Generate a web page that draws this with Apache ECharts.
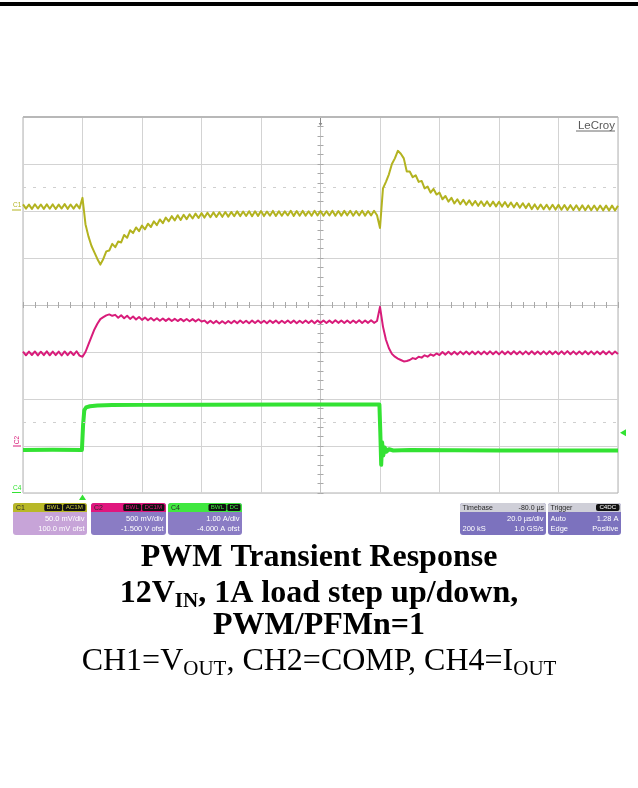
<!DOCTYPE html>
<html>
<head>
<meta charset="utf-8">
<script src="https://cdn.jsdelivr.net/npm/echarts@6/dist/echarts.min.js"></script>
<style>
  html, body { margin: 0; padding: 0; background: #ffffff; }
  #scope { width: 638px; height: 788px; }
</style>
</head>
<body>
<div id="scope"></div>
<script>
// ---- acquisition: CH1 / CH2 are sampled every 1 µs, starting 20 µs before the trigger ----
const sampleStartUs = -20;
const sampleStepUs = 1;

// CH1 = VOUT (AC coupled), mV
const ch1VoutMv = [
  7.0, 2.5, 6.8, 2.2, 7.2, 2.6, 6.9, 2.3, 7.1, 2.4, 7.0, 2.1, 6.8, 2.6, 7.3, 2.3, 6.9, 2.5, 7.0, 2.8,
  14, -14, -27, -37, -44, -51, -57, -51,
  -43, -42, -35, -38.5, -32.5, -33.5, -25.5, -28.5, -20.5, -23.5, -17.5, -21.5, -15.5,
  -19.5, -13.5, -17, -11, -15, -9, -13, -7, -11, -5.5, -10, -4.5, -9.5, -4, -8.7, -3.5,
  -8, -2.8, -7.5, -2.3, -7, -1.8, -6.6, -1.5, -6.4, -1.3, -6.2, -1.1, -6, -1,
  -5.6, -0.4, -5.4, -0.6, -5.3, -0.2, -5.5, -0.3, -5.2, 0.0,
  -5.4, -0.5, -5.0, 0.1, -5.3, -0.2, -5.1, -0.4, -4.8, 0.2,
  -5.2, -0.1, -5.0, 0.1, -4.9, -0.3, -5.1, 0.2, -4.7, 0.0,
  -5.0, -0.2, -4.8, 0.3, -5.1, 0.0, -4.9, 0.1, -4.6, 0.2,
  -5.0, -0.1, -4.8, 0.3, -4.9, 0.0, -4.7, 0.2, -4.6,
  -18,
  24, 31, 39, 50, 56, 64, 61, 56, 42, 42,
  36, 38, 31, 32, 24, 26, 19.5, 23.5, 17.5, 19.5, 12.5, 16, 10, 14, 8, 12.5, 7.2,
  11.9, 6.6, 11.3, 6.0, 10.7, 5.5, 10.4, 5.3, 10.2, 5.1, 10.0, 4.9, 9.9, 4.7, 9.5, 4.3, 9.1, 3.9, 8.7, 3.5, 8.3, 3.1, 8.0,
  2.0, 7.0, 1.9, 6.9, 1.8, 6.7, 1.6, 6.6, 1.5, 6.5, 1.3, 6.3, 1.2, 6.2, 1.0, 6.1, 0.9, 6.0, 0.8, 5.9,
  0.8, 5.8, 0.7, 5.8, 0.7, 5.7, 0.6, 5.7, 0.6, 5.6
];

// CH2 = COMP, V
const ch2CompV = [
  1.005, 0.965, 1.004, 0.968, 1.006, 0.964, 1.003, 0.966, 1.007, 0.965,
  1.004, 0.967, 1.005, 0.963, 1.006, 0.966, 1.003, 0.968, 1.008, 0.962,
  0.95,
  1.00, 1.08, 1.16, 1.24, 1.30, 1.35, 1.37, 1.39, 1.40, 1.385, 1.395,
  1.365, 1.39, 1.36, 1.385, 1.352, 1.378, 1.346, 1.372, 1.342, 1.366,
  1.338, 1.362, 1.335, 1.36, 1.333, 1.357, 1.331, 1.355, 1.33, 1.353,
  1.329, 1.352, 1.328, 1.351, 1.327, 1.35, 1.326, 1.349, 1.325,
  1.334, 1.307, 1.332, 1.306, 1.331, 1.304, 1.328, 1.303, 1.330, 1.305,
  1.333, 1.307, 1.335, 1.308, 1.333, 1.306, 1.334, 1.309, 1.336, 1.308,
  1.333, 1.306, 1.335, 1.31, 1.334, 1.307, 1.333, 1.309, 1.336, 1.308,
  1.334, 1.306, 1.333, 1.308, 1.335, 1.309, 1.334, 1.307, 1.336, 1.31,
  1.335, 1.308, 1.334, 1.309, 1.337, 1.31, 1.335, 1.308, 1.336, 1.309,
  1.335, 1.31, 1.337, 1.309, 1.336, 1.31, 1.338, 1.31, 1.33,
  1.48,
  1.27, 1.13, 1.04, 0.98, 0.95, 0.93, 0.915, 0.90, 0.905, 0.915,
  0.935, 0.925, 0.95, 0.94, 0.965, 0.95, 0.975, 0.96, 0.985, 0.968,
  1.0, 0.972, 1.002, 0.973, 1.003, 0.974, 1.004, 0.975, 1.005, 0.975,
  1.006, 0.976, 1.005, 0.975, 1.006, 0.977, 1.007, 0.976, 1.006, 0.975,
  1.007, 0.977, 1.006, 0.976, 1.008, 0.977, 1.006, 0.975, 1.007, 0.976,
  1.008, 0.977, 1.006, 0.976, 1.007, 0.975, 1.008, 0.977, 1.006, 0.976,
  1.007, 0.977, 1.009, 0.976, 1.007, 0.975, 1.006, 0.977, 1.008, 0.976,
  1.007, 0.975, 1.006, 0.977, 1.008, 0.976, 1.007, 0.975, 1.006, 0.978
];

// CH4 = IOUT, A (its own time points, µs)
const ch4TimeUs = [-20, -10, -0.2, 0.2, 0.6, 1.2, 2.5, 5, 10, 20, 40, 70, 99.8, 100.1, 100.4, 100.7, 101.1, 101.6, 102.2, 103, 104.5, 110, 140, 180];
const ch4IoutA  = [0.915, 0.918, 0.915, 1.45, 1.76, 1.82, 1.845, 1.862, 1.87, 1.875, 1.88, 1.882, 1.882, 1.3, 0.6, 1.08, 0.8, 0.97, 0.88, 0.93, 0.905, 0.915, 0.905, 0.905];

// ---- scope settings ----
const divisionsX = 10, divisionsY = 8;
const timePerDivUs = 20;
const screenCenterUs = 80;          // trigger sits 80 µs left of centre
const ch1Set = { perDiv: 50, offset: 100 };     // mV/div, mV
const ch2Set = { perDiv: 0.5, offset: -1.5 };   // V/div, V
const ch4Set = { perDiv: 1, offset: -4 };       // A/div, A
const triggerLevelA = 1.28;
const referenceLevelsDiv = [2.5, -2.5];

// readout panel texts
const ch1Readout = ['C1', ['BWL', 'AC1M'], '50.0 mV/div', '100.0 mV ofst'];
const ch2Readout = ['C2', ['BWL', 'DC1M'], '500 mV/div', '-1.500 V ofst'];
const ch4Readout = ['C4', ['BWL', 'DC'], '1.00 A/div', '-4.000 A ofst'];
const timebaseReadout = ['Timebase', '-80.0 µs', ['', '20.0 µs/div'], ['200 kS', '1.0 GS/s']];
const triggerReadout = ['Trigger', 'C4DC', ['Auto', '1.28 A'], ['Edge', 'Positive']];

const titleLines = ['PWM Transient Response', '12V', 'IN', ', 1A load step up/down,', 'PWM/PFMn=1'];

const col = { c1: '#b3b320', c2: '#d81c7a', c4: '#33e233', grid: '#d3d3d3', frame: '#b0b0b0' };

function rangeOf(set) {
  return { min: -divisionsY / 2 * set.perDiv - set.offset, max: divisionsY / 2 * set.perDiv - set.offset };
}
const r1 = rangeOf(ch1Set), r2 = rangeOf(ch2Set), r4 = rangeOf(ch4Set);
const xMin = screenCenterUs - divisionsX / 2 * timePerDivUs;
const xMax = screenCenterUs + divisionsX / 2 * timePerDivUs;

const chart = echarts.init(document.getElementById('scope'), null, { renderer: 'canvas' });

const tickStyle = { color: '#a8a8a8', width: 1 };
const option = {
  animation: false,
  backgroundColor: '#ffffff',
  grid: { left: 23, top: 117, width: 595, height: 376, show: true, borderColor: col.frame, borderWidth: 1, backgroundColor: '#ffffff', outerBoundsMode: 'none', containLabel: false },
  xAxis: [
    { type: 'value', min: xMin, max: xMax, interval: timePerDivUs, position: 'bottom',
      axisLabel: { show: false },
      splitLine: { show: true, lineStyle: { color: col.grid, width: 1 } },
      axisLine: { show: true, onZero: true, onZeroAxisIndex: 0, lineStyle: { color: '#c4c4c4', width: 1 } },
      axisTick: { show: true, length: 3, lineStyle: tickStyle },
      minorTick: { show: true, splitNumber: 5, length: 3, lineStyle: tickStyle } },
    { type: 'value', min: xMin, max: xMax, interval: timePerDivUs, position: 'top',
      axisLabel: { show: false }, splitLine: { show: false },
      axisLine: { show: false, onZero: true, onZeroAxisIndex: 0 },
      axisTick: { show: true, length: 3, lineStyle: tickStyle },
      minorTick: { show: true, splitNumber: 5, length: 3, lineStyle: tickStyle } },
    { type: 'value', min: -100, max: 100, show: false }
  ],
  yAxis: [
    { type: 'value', min: -divisionsY / 2, max: divisionsY / 2, interval: 1, position: 'left',
      axisLabel: { show: false },
      splitLine: { show: true, lineStyle: { color: col.grid, width: 1 } },
      axisLine: { show: true, onZero: true, onZeroAxisIndex: 2, lineStyle: { color: '#c4c4c4', width: 1 } },
      axisTick: { show: true, length: 3, lineStyle: tickStyle },
      minorTick: { show: true, splitNumber: 5, length: 3, lineStyle: tickStyle } },
    { type: 'value', min: -divisionsY / 2, max: divisionsY / 2, interval: 1, position: 'right',
      axisLabel: { show: false }, splitLine: { show: false },
      axisLine: { show: false, onZero: true, onZeroAxisIndex: 2 },
      axisTick: { show: true, length: 3, lineStyle: tickStyle },
      minorTick: { show: true, splitNumber: 5, length: 3, lineStyle: tickStyle } },
    { type: 'value', min: r1.min, max: r1.max, show: false },
    { type: 'value', min: r2.min, max: r2.max, show: false },
    { type: 'value', min: r4.min, max: r4.max, show: false }
  ],
  series: [
    { name: 'graticule', type: 'line', xAxisIndex: 0, yAxisIndex: 0, data: [], silent: true,
      markLine: { silent: true, symbol: 'none', label: { show: false },
        lineStyle: { color: '#cfcfcf', type: [3, 7], width: 1 },
        data: referenceLevelsDiv.map(v => ({ yAxis: v })) } },
    { name: 'C4', type: 'line', xAxisIndex: 0, yAxisIndex: 4, symbol: 'none', z: 3,
      data: ch4TimeUs.map((t, i) => [t, ch4IoutA[i]]),
      lineStyle: { color: col.c4, width: 4, cap: 'butt', join: 'round' } },
    { name: 'C2', type: 'line', xAxisIndex: 0, yAxisIndex: 3, symbol: 'none', z: 4,
      data: ch2CompV.map((v, i) => [sampleStartUs + i * sampleStepUs, v]),
      lineStyle: { color: col.c2, width: 2, join: 'round' } },
    { name: 'C1', type: 'line', xAxisIndex: 0, yAxisIndex: 2, symbol: 'none', z: 5,
      data: ch1VoutMv.map((v, i) => [sampleStartUs + i * sampleStepUs, v]),
      lineStyle: { color: col.c1, width: 2, join: 'round' } }
  ]
};
chart.setOption(option);

// ---- overlay: markers, readout boxes, caption ----
const sansFont = '"Liberation Sans", Arial, sans-serif';
const serifFont = '"Liberation Serif", "Times New Roman", serif';

function txt(x, y, text, size, fill, align, extra) {
  return Object.assign({ type: 'text', x: x, y: y, silent: true, z: 20,
    style: { text: text, fill: fill, font: size + 'px ' + sansFont, align: align || 'left', verticalAlign: 'middle',
             textAlign: align || 'left', textVerticalAlign: 'middle' } }, extra || {});
}
function rect(x, y, w, h, fill, r) {
  return { type: 'rect', silent: true, z: 19, shape: { x: x, y: y, width: w, height: h, r: r || 0 }, style: { fill: fill } };
}

function channelBox(x, w, head, body, chipText, readout) {
  const y = 503, h = 32, hh = 9;
  const els = [rect(x, y, w, h, body, 3), rect(x, y, w, hh, head, [3, 3, 0, 0])];
  els.push(txt(x + 3, y + 4.8, readout[0], 7, '#2a2a2a'));
  // coupling chips at the right end of the header
  let cx = x + w - 1.5;
  const chips = readout[1].slice().reverse();
  chips.forEach(c => {
    const cw = c.length * 4.6 + 4;
    cx -= cw;
    els.push(rect(cx, y + 1, cw, 7, '#111111', 1.5));
    els.push(txt(cx + cw / 2, y + 4.7, c, 6.2, chipText, 'center'));
    cx -= 1;
  });
  els.push(txt(x + w - 2.5, y + 16, readout[2], 7.5, '#ffffff', 'right'));
  els.push(txt(x + w - 2.5, y + 26, readout[3], 7.5, '#ffffff', 'right'));
  return els;
}
function infoBox(x, w, readout) {
  const y = 503, h = 32, hh = 9;
  const els = [rect(x, y, w, h, '#7c72be', 3), rect(x, y, w, hh, '#cfcfd8', [3, 3, 0, 0])];
  els.push(txt(x + 2.5, y + 4.8, readout[0], 7, '#2a2a2a'));
  if (readout[1] === 'C4DC') {
    els.push(rect(x + w - 25, y + 1, 23.5, 7, '#111111', 2));
    els.push(txt(x + w - 13.2, y + 4.7, 'C4DC', 6.2, '#ffffff', 'center'));
  } else {
    els.push(txt(x + w - 2, y + 4.8, readout[1], 7, '#2a2a2a', 'right'));
  }
  [readout[2], readout[3]].forEach((row, k) => {
    const ry = y + 16 + k * 10;
    if (row[0]) els.push(txt(x + 2.5, ry, row[0], 7.5, '#ffffff'));
    els.push(txt(x + w - 2.5, ry, row[1], 7.5, '#ffffff', 'right'));
  });
  return els;
}

function drawOverlay() {
  const yC1 = chart.convertToPixel({ yAxisIndex: 2 }, 0);
  const yC2 = chart.convertToPixel({ yAxisIndex: 3 }, 0);
  const yC4 = chart.convertToPixel({ yAxisIndex: 4 }, 0);
  const yTrig = chart.convertToPixel({ yAxisIndex: 4 }, triggerLevelA);
  const xTrig = chart.convertToPixel({ xAxisIndex: 0 }, 0);
  const xCenter = chart.convertToPixel({ xAxisIndex: 0 }, screenCenterUs);
  const gTop = chart.convertToPixel({ yAxisIndex: 0 }, divisionsY / 2);
  const gRight = chart.convertToPixel({ xAxisIndex: 0 }, xMax);

  const els = [];
  // black rule across the page top
  els.push(rect(0, 2, 638, 4, '#000000'));
  // heavier top frame of the graticule
  els.push({ type: 'line', silent: true, z: 18, shape: { x1: 23, y1: gTop, x2: gRight, y2: gTop }, style: { stroke: '#b8b8b8', lineWidth: 2 } });
  // horizontal position marker
  els.push({ type: 'line', silent: true, z: 18, shape: { x1: xCenter, y1: gTop + 1, x2: xCenter, y2: gTop + 8 }, style: { stroke: '#8a8a8a', lineWidth: 1 } });
  els.push({ type: 'polygon', silent: true, z: 18, shape: { points: [[xCenter - 1.8, gTop + 6], [xCenter + 1.8, gTop + 6], [xCenter, gTop + 9]] }, style: { fill: '#8a8a8a' } });
  // brand
  els.push(txt(gRight - 3, gTop + 8.5, 'LeCroy', 11.5, '#5a5a5a', 'right'));
  els.push({ type: 'line', silent: true, z: 18, shape: { x1: gRight - 42, y1: gTop + 14, x2: gRight - 3, y2: gTop + 14 }, style: { stroke: '#6a6a6a', lineWidth: 1 } });

  // channel ground markers
  els.push(txt(13, yC1 - 5.5, 'C1', 6.5, col.c1));
  els.push({ type: 'line', silent: true, z: 18, shape: { x1: 12, y1: yC1 - 1, x2: 21, y2: yC1 - 1 }, style: { stroke: col.c1, lineWidth: 1 } });
  els.push(Object.assign(txt(0, 0, 'C2', 6.5, col.c2, 'center'), { x: 17, y: yC2 - 6, rotation: Math.PI / 2 }));
  els.push({ type: 'line', silent: true, z: 18, shape: { x1: 13, y1: yC2, x2: 21, y2: yC2 }, style: { stroke: col.c2, lineWidth: 1 } });
  els.push(txt(13, yC4 - 5, 'C4', 6.5, col.c4));
  els.push({ type: 'line', silent: true, z: 18, shape: { x1: 12, y1: yC4 - 0.5, x2: 21, y2: yC4 - 0.5 }, style: { stroke: col.c4, lineWidth: 1 } });

  // trigger position and level markers
  els.push({ type: 'polygon', silent: true, z: 18, shape: { points: [[xTrig - 3.5, yC4 + 7], [xTrig + 3.5, yC4 + 7], [xTrig, yC4 + 1.5]] }, style: { fill: col.c4 } });
  els.push({ type: 'polygon', silent: true, z: 18, shape: { points: [[gRight + 2, yTrig], [gRight + 8, yTrig - 3.5], [gRight + 8, yTrig + 3.5]] }, style: { fill: col.c4 } });

  // readout boxes
  els.push(...channelBox(13, 74, '#b8b828', '#c7a4d8', '#c9c93a', ch1Readout));
  els.push(...channelBox(91, 75, '#e0167e', '#8a7cc4', '#e0167e', ch2Readout));
  els.push(...channelBox(168, 74, '#40e840', '#8a7cc4', '#40e840', ch4Readout));
  els.push(...infoBox(460, 86, timebaseReadout));
  els.push(...infoBox(548, 73, triggerReadout));

  // caption
  const bold = 'bold 32px ' + serifFont;
  const cap = (y, text, rich, font) => ({ type: 'text', x: 319, y: y, silent: true, z: 20,
    style: { text: text, rich: rich, font: font, fill: '#000000', lineHeight: 36,
             align: 'center', verticalAlign: 'middle', textAlign: 'center', textVerticalAlign: 'middle' } });
  const subBold = { fontFamily: serifFont, fontWeight: 'bold', fontSize: 21, lineHeight: 33, verticalAlign: 'bottom', fill: '#000' };
  const mainBold = { fontFamily: serifFont, fontWeight: 'bold', fontSize: 32, lineHeight: 36, fill: '#000' };
  const subReg = { fontFamily: serifFont, fontSize: 21, lineHeight: 33, verticalAlign: 'bottom', fill: '#000' };
  const mainReg = { fontFamily: serifFont, fontSize: 32, lineHeight: 36, fill: '#000' };
  els.push(cap(558, titleLines[0], null, bold));
  els.push(cap(594, '{m|' + titleLines[1] + '}{s|' + titleLines[2] + '}{m|' + titleLines[3] + '}', { m: mainBold, s: subBold }, bold));
  els.push(cap(626, titleLines[4], null, bold));
  els.push(cap(662, '{m|CH1=V}{s|OUT}{m|, CH2=COMP, CH4=I}{s|OUT}', { m: mainReg, s: subReg }, '32px ' + serifFont));

  chart.setOption({ graphic: { elements: els } });
}
drawOverlay();
</script>
</body>
</html>
